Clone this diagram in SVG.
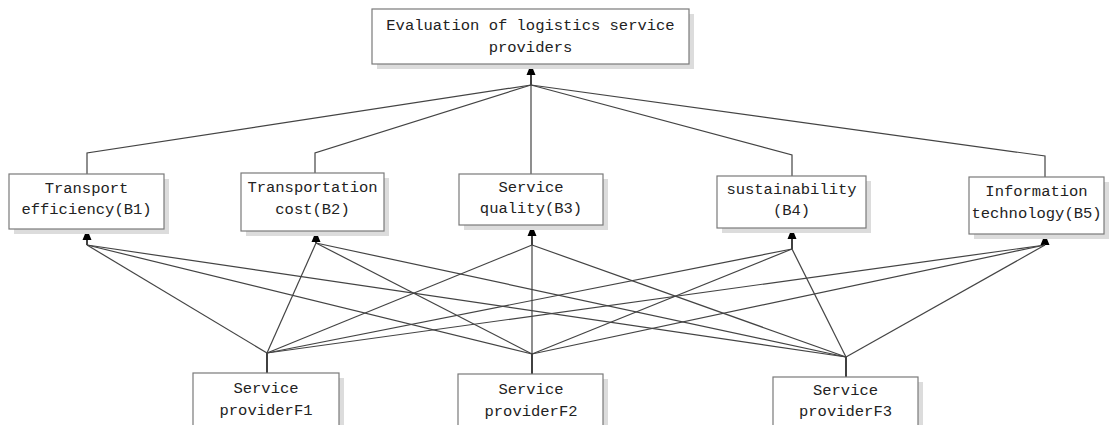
<svg xmlns="http://www.w3.org/2000/svg" width="1114" height="425" viewBox="0 0 1114 425">
<defs>
<path id="ah" d="M0,0 L4.5,11 L-4.5,11 Z" fill="#000"/>
<style>
.box{fill:#fff;stroke:#7a7a7a;stroke-width:1.2}
.sh{fill:#dcdcdc}
.t{font-family:"Liberation Mono","DejaVu Sans Mono",monospace;font-size:15.5px;fill:#222;text-anchor:middle}
.c{fill:none;stroke:#444;stroke-width:1.2}
.a{fill:none;stroke:#111;stroke-width:1.6}
</style>
</defs>
<rect width="1114" height="425" fill="#fff"/>
<g id="connectors">
<!-- top level -->
<line class="a" x1="531" y1="85" x2="531" y2="70"/>
<use href="#ah" x="531" y="64"/>
<polyline class="c" points="531,85 87,153 87,174"/>
<polyline class="c" points="531,85 315,153 315,173"/>
<polyline class="c" points="531,85 531,174"/>
<polyline class="c" points="531,85 792,155 792,176"/>
<polyline class="c" points="531,85 1045,156 1045,177"/>
<!-- arrows into B boxes -->
<line class="a" x1="87" y1="245" x2="87" y2="235"/>
<use href="#ah" x="87" y="229"/>
<line class="a" x1="316" y1="243" x2="316" y2="237"/>
<use href="#ah" x="316" y="231"/>
<line class="a" x1="532" y1="245" x2="532" y2="231"/>
<use href="#ah" x="532" y="225"/>
<line class="a" x1="792" y1="249" x2="792" y2="234"/>
<use href="#ah" x="792" y="228"/>
<line class="a" x1="1045" y1="245" x2="1045" y2="239"/>
<use href="#ah" x="1045" y="234"/>
<!-- F junctions to boxes -->
<line class="a" x1="267" y1="353" x2="267" y2="373"/>
<line class="a" x1="532" y1="354" x2="532" y2="374"/>
<line class="a" x1="846" y1="357" x2="846" y2="377"/>
<!-- cross links -->
<g class="c">
<line x1="87" y1="245" x2="267" y2="353"/>
<line x1="87" y1="245" x2="532" y2="354"/>
<line x1="87" y1="245" x2="846" y2="357"/>
<line x1="316" y1="243" x2="267" y2="353"/>
<line x1="316" y1="243" x2="532" y2="354"/>
<line x1="316" y1="243" x2="846" y2="357"/>
<line x1="532" y1="245" x2="267" y2="353"/>
<line x1="532" y1="245" x2="532" y2="354"/>
<line x1="532" y1="245" x2="846" y2="357"/>
<line x1="792" y1="249" x2="267" y2="353"/>
<line x1="792" y1="249" x2="532" y2="354"/>
<line x1="792" y1="249" x2="846" y2="357"/>
<line x1="1045" y1="245" x2="267" y2="353"/>
<line x1="1045" y1="245" x2="532" y2="354"/>
<line x1="1045" y1="245" x2="846" y2="357"/>
</g>
</g>
<g id="top">
<rect class="sh" x="377" y="14" width="317" height="55"/>
<rect class="box" x="372" y="9" width="317" height="55"/>
<text class="t" x="530.5" y="30">Evaluation of logistics service</text>
<text class="t" x="530.5" y="52">providers</text>
</g>
<g id="b1">
<rect class="sh" x="14" y="179" width="155" height="55"/>
<rect class="box" x="9" y="174" width="155" height="55"/>
<text class="t" x="86.5" y="193">Transport</text>
<text class="t" x="86.5" y="214">efficiency(B1)</text>
</g>
<g id="b2">
<rect class="sh" x="246" y="178" width="143" height="58"/>
<rect class="box" x="241" y="173" width="143" height="58"/>
<text class="t" x="312.5" y="192">Transportation</text>
<text class="t" x="312.5" y="214">cost(B2)</text>
</g>
<g id="b3">
<rect class="sh" x="464" y="179" width="144" height="51"/>
<rect class="box" x="459" y="174" width="144" height="51"/>
<text class="t" x="531" y="192">Service</text>
<text class="t" x="531" y="213">quality(B3)</text>
</g>
<g id="b4">
<rect class="sh" x="722" y="181" width="149" height="52"/>
<rect class="box" x="717" y="176" width="149" height="52"/>
<text class="t" x="791.5" y="194">sustainability</text>
<text class="t" x="791.5" y="215">(B4)</text>
</g>
<g id="b5">
<rect class="sh" x="974" y="182" width="135" height="57"/>
<rect class="box" x="969" y="177" width="135" height="57"/>
<text class="t" x="1036.5" y="196">Information</text>
<text class="t" x="1036.5" y="218">technology(B5)</text>
</g>
<g id="f1">
<rect class="sh" x="198" y="378" width="146" height="60"/>
<rect class="box" x="193" y="373" width="146" height="60"/>
<text class="t" x="266" y="393">Service</text>
<text class="t" x="266" y="415">providerF1</text>
</g>
<g id="f2">
<rect class="sh" x="463" y="379" width="145" height="60"/>
<rect class="box" x="458" y="374" width="145" height="60"/>
<text class="t" x="531" y="394">Service</text>
<text class="t" x="531" y="416">providerF2</text>
</g>
<g id="f3">
<rect class="sh" x="778" y="382" width="145" height="60"/>
<rect class="box" x="773" y="377" width="145" height="60"/>
<text class="t" x="845.5" y="395">Service</text>
<text class="t" x="845.5" y="416">providerF3</text>
</g>
</svg>
